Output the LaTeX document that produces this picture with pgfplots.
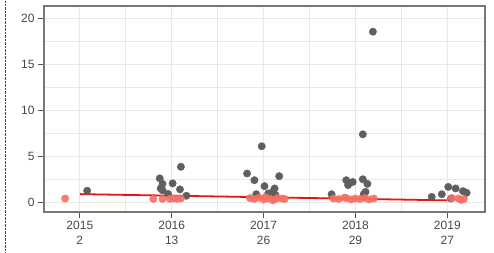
\documentclass[border=0pt]{standalone}
\usepackage{pgfplots}
\pgfplotsset{compat=1.18}
\usepackage{fontspec}
\setmainfont{Liberation Sans}
\definecolor{ptgray}{RGB}{95,95,95}
\definecolor{ptred}{RGB}{248,110,100}
\definecolor{lnred}{RGB}{232,20,20}
\definecolor{gridc}{RGB}{232,232,232}
\definecolor{axc}{RGB}{85,85,85}
\pgfplotstableread{
x y
2015.08 1.25
2015.87 2.6
2015.90 2.0
2015.88 1.5
2015.90 1.3
2015.96 0.9
2016.01 2.05
2016.10 3.86
2016.09 1.4
2016.16 0.7
2016.82 3.13
2016.90 2.4
2016.98 6.1
2017.01 1.75
2017.17 2.84
2017.12 1.5
2017.10 1.13
2016.92 0.87
2017.05 0.95
2017.13 0.77
2017.74 0.87
2017.90 2.4
2017.92 1.86
2017.97 2.2
2018.08 7.4
2018.19 18.6
2018.08 2.5
2018.13 2.0
2018.11 1.13
2018.09 0.87
2018.83 0.58
2018.94 0.87
2019.01 1.67
2019.09 1.5
2019.17 1.2
2019.21 1.02
2019.04 0.4
}\graydata
\pgfplotstableread{
x y
2014.84 0.4
2015.80 0.36
2015.90 0.36
2015.98 0.36
2016.02 0.40
2016.06 0.36
2016.10 0.40
2016.85 0.45
2016.90 0.35
2016.95 0.50
2017.00 0.30
2017.05 0.40
2017.10 0.20
2017.15 0.45
2017.20 0.40
2017.23 0.35
2017.02 0.55
2017.12 0.30
2017.76 0.40
2017.82 0.35
2017.90 0.45
2017.95 0.30
2018.00 0.40
2018.05 0.35
2018.10 0.45
2018.15 0.30
2018.20 0.40
2017.88 0.50
2019.05 0.45
2019.12 0.40
2019.18 0.35
2019.15 0.25
}\reddata
\begin{document}
\begin{tikzpicture}[x=1pt,y=1pt]
\path[use as bounding box] (0,0) rectangle (494,252);
\draw[densely dotted, black!70] (5,0) -- (5,252);
\begin{axis}[
  at={(44pt,40pt)}, anchor=south west,
  scale only axis, width=441pt, height=206pt,
  xmin=2014.61, xmax=2019.41,
  ymin=-1.07, ymax=21.4,
  xtick={2015,2016,2017,2018,2019},
  xticklabels={{2015\\2},{2016\\13},{2017\\26},{2018\\29},{2019\\27}},
  xticklabel style={align=center, font=\fontsize{12}{15}\selectfont, text=black!72},
  yticklabel style={font=\fontsize{12}{13}\selectfont, text=black!72},
  ytick={0,5,10,15,20},
  minor xtick={2014.5,2015.5,2016.5,2017.5,2018.5,2019.5},
  minor ytick={2.5,7.5,12.5,17.5},
  grid=both,
  major grid style={gridc, line width=1.1pt},
  minor grid style={gridc, line width=0.6pt},
  axis line style={axc!80, line width=1.3pt},
  tick style={axc, line width=1.3pt},
  tick align=outside,
  major tick length=6pt,
  minor tick length=0pt,
  xtick pos=bottom, ytick pos=left,
  /pgf/number format/assume math mode=true,
  clip=false,
]
\addplot[only marks, mark=*, mark size=3.7pt, color=ptgray, fill=ptgray] table[x=x,y=y] {\graydata};
\addplot[only marks, mark=*, mark size=3.7pt, color=ptred, fill=ptred, opacity=0.9] table[x=x,y=y] {\reddata};
\addplot[lnred, line width=1.8pt] coordinates {(2015,0.88) (2019,0.2)};
\end{axis}
\end{tikzpicture}
\end{document}
